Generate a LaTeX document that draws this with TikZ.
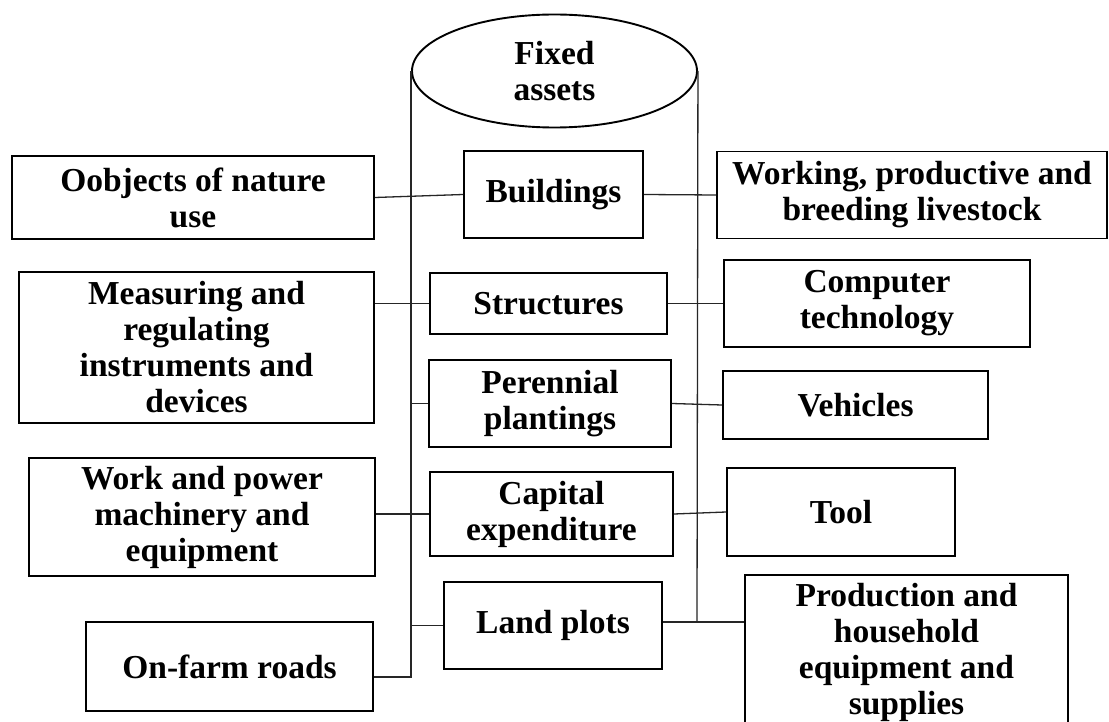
\documentclass[tikz,border=0pt]{standalone}
\usepackage{fontspec}
\setmainfont{Liberation Serif}
\usetikzlibrary{shapes.geometric}
\begin{document}
\begin{tikzpicture}[x=1pt,y=-1pt,
  box/.style={draw=black,line width=1.9pt,rectangle,inner sep=0pt,align=center,
    font=\bfseries\fontsize{33.5}{36}\selectfont},
  conn/.style={draw=black!85,line width=1.3pt}]
\useasboundingbox (0,0) rectangle (1109,722);
\fill[white] (0,0) rectangle (1109,722);
% central ellipse
\node[box,ellipse,minimum width=285pt,minimum height=113pt] (fa) at (554.5,71) {Fixed\\assets};
% left column
\node[box,minimum width=362pt,minimum height=83pt] (obj) at (193,197.5) {Oobjects of nature\\use};
\node[box,minimum width=355pt,minimum height=151pt] (mea) at (196.5,347.5) {Measuring and\\regulating\\instruments and\\devices};
\node[box,minimum width=346pt,minimum height=118pt] (wrk) at (202,517) {Work and power\\machinery and\\equipment};
\node[box,minimum width=287pt,minimum height=89pt] (road) at (229.5,666.5) {On-farm roads};
% middle column
\node[box,minimum width=179pt,minimum height=87pt] (bld) at (553.5,194.5) {Buildings};
\node[box,minimum width=237pt,minimum height=61pt] (str) at (548.5,303.5) {Structures};
\node[box,minimum width=242pt,minimum height=87pt] (per) at (550,403.5) {Perennial\\plantings};
\node[box,minimum width=243pt,minimum height=84pt] (cap) at (551.5,514) {Capital\\expenditure};
\node[box,minimum width=218pt,minimum height=87pt] (land) at (553,625.5) {Land plots};
% right column
\node[box,minimum width=390pt,minimum height=87pt] (liv) at (912,195) {Working, productive and\\breeding livestock};
\node[box,minimum width=306pt,minimum height=87pt] (comp) at (877,303.5) {Computer\\technology};
\node[box,minimum width=265pt,minimum height=68pt] (veh) at (855.5,405) {Vehicles};
\node[box,minimum width=228pt,minimum height=88pt] (tool) at (841,512) {Tool};
\node[box,minimum width=323pt,minimum height=154pt] (prod) at (906.5,652) {Production and\\household\\equipment and\\supplies};
% coordinates on the two vertical lines
\coordinate (lb) at (412,677);
\coordinate (rb) at (697,622);
% vertical lines
\draw[conn] (fa.west) -- (fa.west |- lb) -- ([yshift=-10.5pt]road.east);
\draw[conn] (fa.east) -- (rb);
% horizontal connectors
\draw[conn] (obj.east) -- (bld.west);
\draw[conn] (bld.east) -- (liv.west);
\draw[conn] (str.west -| mea.east) -- (str.west);
\draw[conn] (str.east) -- (comp.west);
\draw[conn] (per.west -| lb) -- (per.west);
\draw[conn] (per.east) -- (veh.west);
\draw[conn] (cap.west -| wrk.east) -- (cap.west);
\draw[conn] (cap.east) -- (tool.west);
\draw[conn] (land.west -| lb) -- (land.west);
\draw[conn] ([yshift=3.5pt]land.east) -- ([yshift=3.5pt]land.east -| prod.west);
\end{tikzpicture}
\end{document}
